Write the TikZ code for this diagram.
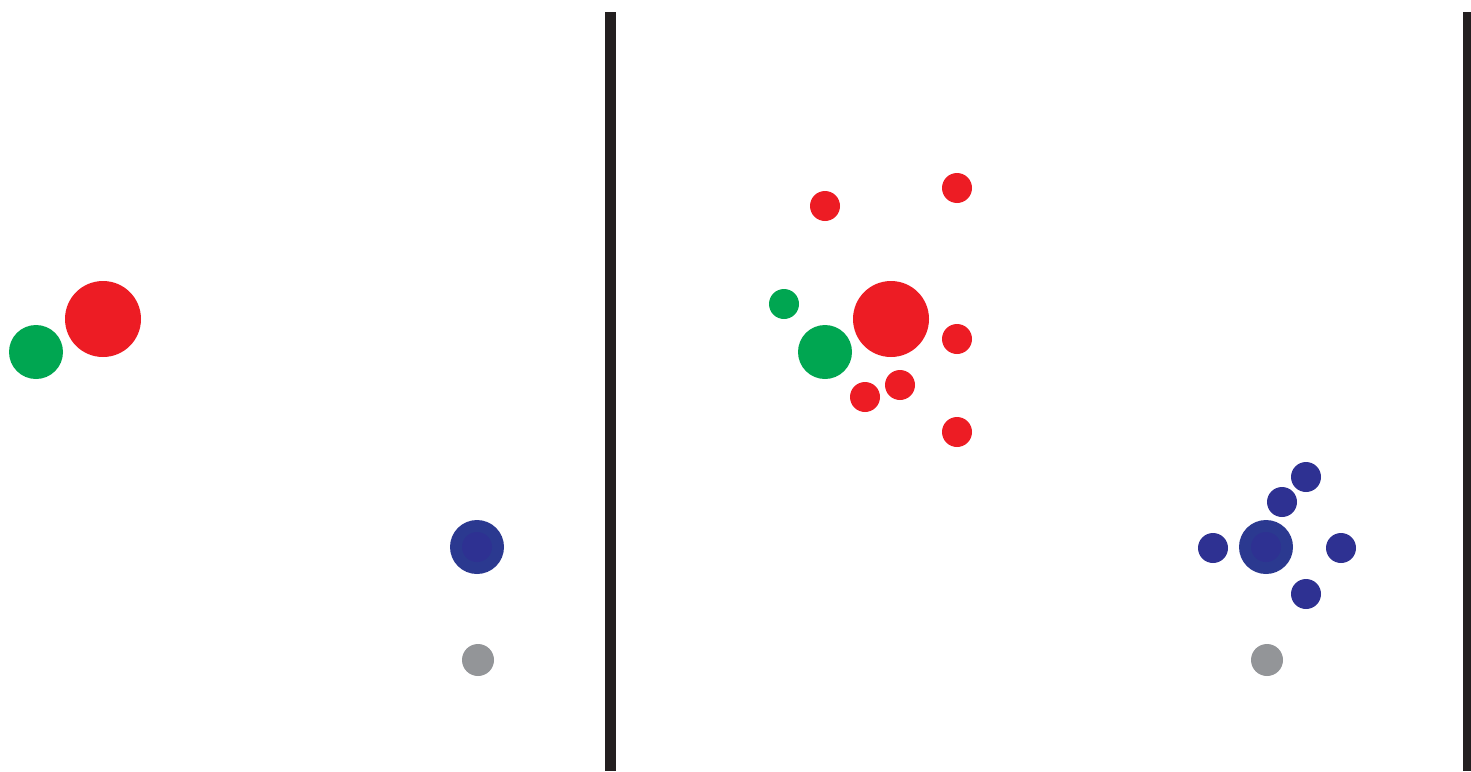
\documentclass[tikz,border=0pt]{standalone}
\definecolor{dotred}{HTML}{ED1C24}
\definecolor{dotgreen}{HTML}{00A651}
\definecolor{dotblue}{HTML}{2B3990}
\definecolor{dotblueinner}{HTML}{2E3192}
\definecolor{dotgray}{HTML}{939598}
\definecolor{barblack}{HTML}{231F20}
\begin{document}
\begin{tikzpicture}[x=1pt, y=-1pt]
    \useasboundingbox (0,0) rectangle (1471,771);
    % Thanh dọc
    \fill[barblack] (605,12) rectangle (616,771);
    \fill[barblack] (1463,12) rectangle (1471,771);

    % Bên trái
    \fill[dotgreen] (36,352) circle (27);
    \fill[dotred] (103,319) circle (38);
    \fill[dotblue] (477,547) circle (27);
    \fill[dotblueinner] (477,547) circle (15);
    \fill[dotgray] (478,660) circle (16);

    % Bên phải
    \fill[dotred] (891,319) circle (38);
    \foreach \p in {(825,206),(957,188),(957,339),(865,397),(900,385),(957,432)}
        \fill[dotred] \p circle (15);
    \fill[dotgreen] (825,352) circle (27);
    \fill[dotgreen] (784,304) circle (15);
    \fill[dotblue] (1266,547) circle (27);
    \fill[dotblueinner] (1266,547) circle (15);
    \foreach \p in {(1306,477),(1282,502),(1213,548),(1341,548),(1306,594)}
        \fill[dotblueinner] \p circle (15);
    \fill[dotgray] (1267,660) circle (16);
\end{tikzpicture}
\end{document}
